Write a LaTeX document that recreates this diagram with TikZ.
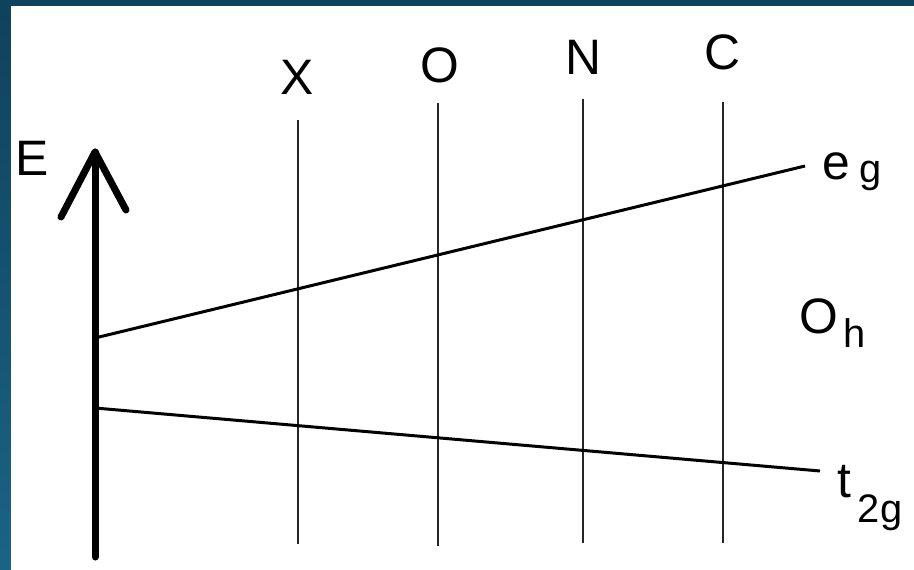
\documentclass[tikz,border=0pt]{standalone}
\usepackage{fontspec}
\setmainfont{Liberation Sans}
\begin{document}
\begin{tikzpicture}[x=1bp,y=-1bp,
  lbl/.style={inner sep=0pt,anchor=base,font=\fontsize{50}{60}\selectfont},
  sub/.style={inner sep=0pt,anchor=base,font=\fontsize{40}{48}\selectfont},
  axis/.style={line width=7bp,line cap=round,line join=round},
  level/.style={line width=3bp},
  ligand/.style={line width=1.8bp,black!85}]
\useasboundingbox (0,0) rectangle (914,570);
\shade[top color={rgb,255:red,15;green,66;blue,92},bottom color={rgb,255:red,27;green,99;blue,132}] (0,0) rectangle (914,570);
\fill[white] (11,6) rectangle (914,570);
% axis
\coordinate (a0) at (95,557);
\coordinate (a1) at (95,152);
\coordinate (hl) at (61,217);
\coordinate (hr) at (126,210);
\draw[axis] (a0) -- (a1);
\draw[axis] (hl) -- (a1) -- (hr);
\node[lbl] (E) at (32,176) {E};
% ligand columns
\node[lbl] (X) at (297,95) {X};
\node[lbl] (O) at (440,83) {O};
\node[lbl] (N) at (583,75) {N};
\node[lbl] (C) at (722,70) {C};
\coordinate (xt) at (298,120); \coordinate (xb) at (298,544);
\coordinate (ot) at (438,103); \coordinate (ob) at (438,546);
\coordinate (nt) at (583,99);  \coordinate (nb) at (583,543);
\coordinate (ct) at (723,102); \coordinate (cb) at (723,543);
\draw[ligand] (xt) -- (xb);
\draw[ligand] (ot) -- (ob);
\draw[ligand] (nt) -- (nb);
\draw[ligand] (ct) -- (cb);
% levels
\coordinate (eg0) at (95,338); \coordinate (eg1) at (805,166);
\coordinate (tg0) at (95,408); \coordinate (tg1) at (820,471);
\draw[level] (eg0) -- (eg1);
\draw[level] (tg0) -- (tg1);
% labels
\node[lbl] (e) at (836,180) {e};
\node[sub] (g) at (871,183) {g};
\node[lbl] (Oh) at (819,333) {O};
\node[sub] (h) at (855,347) {h};
\node[lbl] (t) at (844,497) {t};
\node[sub] (tsub) at (880,522) {2g};
\end{tikzpicture}
\end{document}
